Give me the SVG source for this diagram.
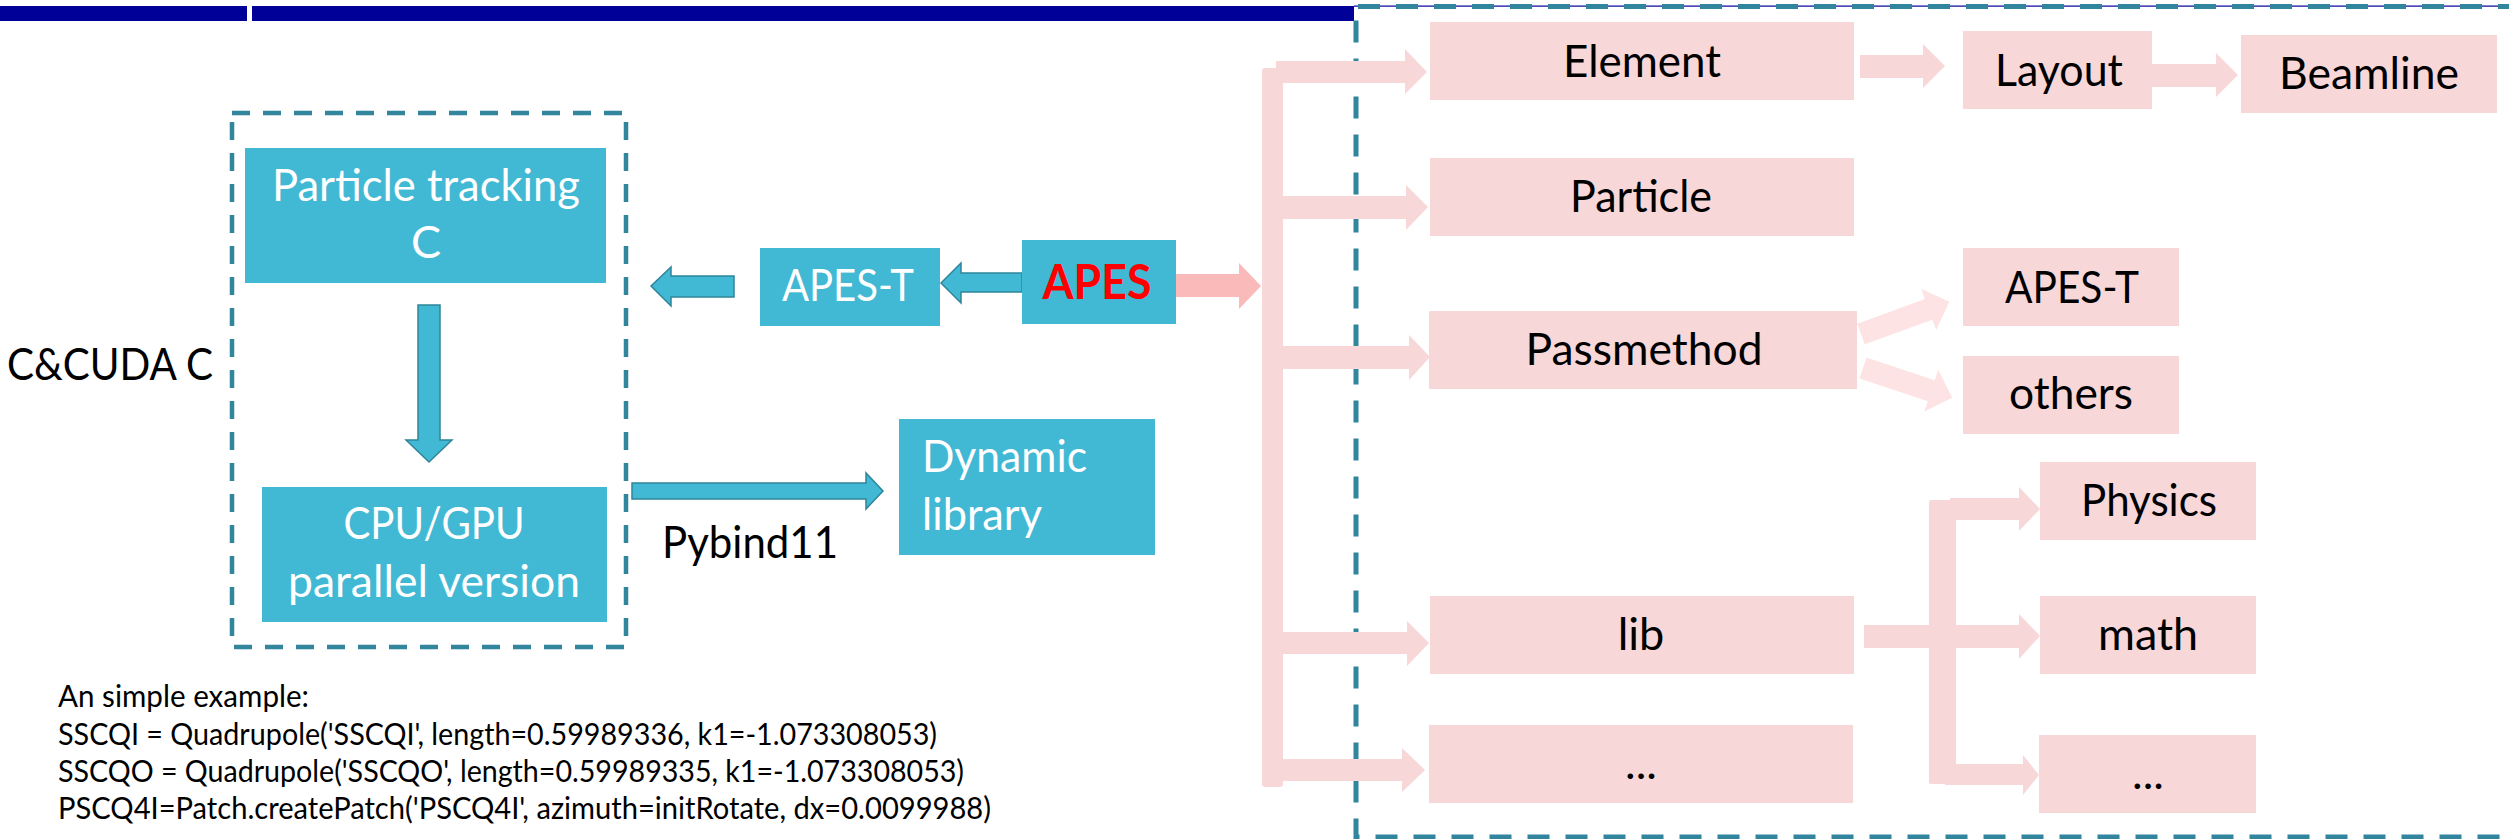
<svg xmlns="http://www.w3.org/2000/svg" xmlns:xlink="http://www.w3.org/1999/xlink" width="2509" height="839" viewBox="0 0 2509 839">
  <style>
    text { font-family: "Lato", "Liberation Sans", sans-serif; }
    .teal { fill: #42B9D4; }
    .pink { fill: #F7D7D8; }
    .wt { fill: #FFFFFF; font-size: 45px; }
    .bk { fill: #000000; font-size: 45px; }
    .pk { fill: #000000; font-size: 45px; text-anchor: middle; }
    .mid { text-anchor: middle; }
    .code { fill: #000000; font-size: 30px; }
    .tarrow { fill: #42B9D4; stroke: #2E8599; stroke-width: 1.5; stroke-linejoin: miter; }
    .parrow { fill: #F7D7D8; }
    .parrow2 { fill: #FDE3E3; }
    .dash-l { fill: none; stroke: #31859C; stroke-width: 4.5; stroke-dasharray: 18 13; }
    .dash-r { fill: none; stroke: #31859C; stroke-width: 5; stroke-dasharray: 22 16; }
  </style>
  <defs>
    <path id="diag" d="M0,-11 L72,-11 L72,-22 L94,0 L72,22 L72,11 L0,11 Z"/>
  </defs>

  <rect width="2509" height="839" fill="#FFFFFF"/>

  <!-- title band -->
  <g id="band">
    <rect x="0" y="6" width="247" height="15" fill="#000099"/>
    <rect x="252" y="6" width="1102" height="15" fill="#000099"/>
    <rect x="1354" y="5.5" width="1155" height="1.2" fill="#000099"/>
  </g>

  <!-- frames -->
  <g id="frame-core">
    <rect class="dash-l" x="232" y="113" width="394" height="534"/>
  </g>
  <g id="frame-modules">
    <path class="dash-r" d="M2520,6.5 L1356,6.5 L1356,837 L2520,837"/>
  </g>

  <!-- connectors -->
  <g id="connectors">
    <!-- teal block arrows -->
    <polygon class="tarrow" points="651,286 671,267 671,276 734,276 734,297 671,297 671,306"/>
    <polygon class="tarrow" points="941,283 961,263 961,273 1022,273 1022,292 961,292 961,303"/>
    <polygon class="tarrow" points="418,305 440,305 440,440 452,440 429,462 406,440 418,440"/>
    <polygon class="tarrow" points="632,483 866,483 866,473 883,491 866,509 866,499 632,499"/>

    <!-- APES to module bus -->
    <polygon fill="#FBBABA" points="1175,274 1239,274 1239,263 1261,286 1239,309 1239,297 1175,297"/>

    <!-- main bus -->
    <rect class="parrow" x="1262" y="68" width="21" height="719" rx="3"/>
    <polygon class="parrow" points="1276,61 1405,61 1405,49 1427,72 1405,94 1405,83 1276,83"/>
    <polygon class="parrow" points="1280,196 1406,196 1406,185 1428,207 1406,230 1406,219 1280,219"/>
    <polygon class="parrow" points="1280,346 1409,346 1409,335 1430,357 1409,380 1409,369 1280,369"/>
    <polygon class="parrow" points="1280,632 1407,632 1407,621 1429,643 1407,666 1407,654 1280,654"/>
    <polygon class="parrow" points="1280,759 1402,759 1402,748 1425,770 1402,792 1402,781 1280,781"/>

    <!-- Element -> Layout -> Beamline -->
    <polygon class="parrow" points="1860,55 1923,55 1923,44 1945,66 1923,88 1923,78 1860,78"/>
    <polygon class="parrow" points="2152,64 2216,64 2216,53 2238,75 2216,97 2216,87 2152,87"/>

    <!-- Passmethod branches -->
    <use xlink:href="#diag" class="parrow2" transform="translate(1861,334) rotate(-20)"/>
    <use xlink:href="#diag" class="parrow2" transform="translate(1863,368) rotate(18.4)"/>

    <!-- lib bus -->
    <rect class="parrow" x="1929" y="500" width="27" height="284" rx="2"/>
    <polygon class="parrow" points="1864,625 2019,625 2019,614 2040,636 2019,659 2019,648 1864,648"/>
    <polygon class="parrow" points="1950,498 2019,498 2019,487 2040,509 2019,531 2019,520 1950,520"/>
    <polygon class="parrow" points="1945,764 2023,764 2023,755 2039,775 2023,795 2023,785 1945,785"/>
  </g>

  <!-- left column -->
  <g id="node-tracking">
    <rect class="teal" x="245" y="148" width="361" height="135"/>
    <text class="wt mid" x="426" y="201" textLength="308" lengthAdjust="spacingAndGlyphs">Particle tracking</text>
    <text class="wt mid" x="426" y="258">C</text>
  </g>
  <g id="node-parallel">
    <rect class="teal" x="262" y="487" width="345" height="135"/>
    <text class="wt mid" x="434" y="539" textLength="181" lengthAdjust="spacingAndGlyphs">CPU/GPU</text>
    <text class="wt mid" x="434" y="597" textLength="292" lengthAdjust="spacingAndGlyphs">parallel version</text>
  </g>
  <g id="label-cuda">
    <text class="bk" x="7" y="380" textLength="206" lengthAdjust="spacingAndGlyphs">C&amp;CUDA C</text>
  </g>
  <g id="node-apes-t">
    <rect class="teal" x="760" y="248" width="180" height="78"/>
    <text class="wt mid" x="848" y="301" textLength="132" lengthAdjust="spacingAndGlyphs">APES-T</text>
  </g>
  <g id="node-apes">
    <rect class="teal" x="1022" y="240" width="154" height="84"/>
    <text x="1097" y="299" text-anchor="middle" fill="#FF0000" font-size="47" font-weight="700" textLength="109" lengthAdjust="spacingAndGlyphs">APES</text>
  </g>
  <g id="node-dynlib">
    <rect class="teal" x="899" y="419" width="256" height="136"/>
    <text class="wt" x="922" y="472" textLength="165" lengthAdjust="spacingAndGlyphs">Dynamic</text>
    <text class="wt" x="922" y="530" textLength="120" lengthAdjust="spacingAndGlyphs">library</text>
  </g>
  <g id="label-pybind">
    <text class="bk" x="662" y="558" textLength="176" lengthAdjust="spacingAndGlyphs">Pybind11</text>
  </g>

  <!-- module tree -->
  <g id="node-element">
    <rect class="pink" x="1430" y="22" width="424" height="78"/>
    <text class="pk" x="1642" y="77" textLength="158" lengthAdjust="spacingAndGlyphs">Element</text>
  </g>
  <g id="node-layout">
    <rect class="pink" x="1963" y="31" width="189" height="78"/>
    <text class="pk" x="2059" y="86" textLength="128" lengthAdjust="spacingAndGlyphs">Layout</text>
  </g>
  <g id="node-beamline">
    <rect class="pink" x="2241" y="35" width="256" height="78"/>
    <text class="pk" x="2369" y="89" textLength="180" lengthAdjust="spacingAndGlyphs">Beamline</text>
  </g>
  <g id="node-particle">
    <rect class="pink" x="1430" y="158" width="424" height="78"/>
    <text class="pk" x="1641" y="212" textLength="142" lengthAdjust="spacingAndGlyphs">Particle</text>
  </g>
  <g id="node-passmethod">
    <rect class="pink" x="1429" y="311" width="428" height="78"/>
    <text class="pk" x="1644" y="365" textLength="237" lengthAdjust="spacingAndGlyphs">Passmethod</text>
  </g>
  <g id="node-pm-apes-t">
    <rect class="pink" x="1963" y="248" width="216" height="78"/>
    <text class="pk" x="2072" y="303" textLength="134" lengthAdjust="spacingAndGlyphs">APES-T</text>
  </g>
  <g id="node-others">
    <rect class="pink" x="1963" y="356" width="216" height="78"/>
    <text class="pk" x="2071" y="409" textLength="124" lengthAdjust="spacingAndGlyphs">others</text>
  </g>
  <g id="node-lib">
    <rect class="pink" x="1430" y="596" width="424" height="78"/>
    <text class="pk" x="1641" y="650">lib</text>
  </g>
  <g id="node-more">
    <rect class="pink" x="1429" y="725" width="424" height="78"/>
    <text class="pk" x="1641" y="779">...</text>
  </g>
  <g id="node-physics">
    <rect class="pink" x="2040" y="462" width="216" height="78"/>
    <text class="pk" x="2149" y="516" textLength="136" lengthAdjust="spacingAndGlyphs">Physics</text>
  </g>
  <g id="node-math">
    <rect class="pink" x="2040" y="596" width="216" height="78"/>
    <text class="pk" x="2148" y="650" textLength="100" lengthAdjust="spacingAndGlyphs">math</text>
  </g>
  <g id="node-lib-more">
    <rect class="pink" x="2039" y="735" width="217" height="78"/>
    <text class="pk" x="2148" y="789">...</text>
  </g>

  <!-- usage sample -->
  <g id="example">
    <text class="code" x="58" y="707" textLength="251" lengthAdjust="spacingAndGlyphs">An simple example:</text>
    <text class="code" x="58" y="745" textLength="879" lengthAdjust="spacingAndGlyphs">SSCQI = Quadrupole('SSCQI', length=0.59989336, k1=-1.073308053)</text>
    <text class="code" x="58" y="782" textLength="906" lengthAdjust="spacingAndGlyphs">SSCQO = Quadrupole('SSCQO', length=0.59989335, k1=-1.073308053)</text>
    <text class="code" x="58" y="819" textLength="933" lengthAdjust="spacingAndGlyphs">PSCQ4I=Patch.createPatch('PSCQ4I', azimuth=initRotate, dx=0.0099988)</text>
  </g>
</svg>
